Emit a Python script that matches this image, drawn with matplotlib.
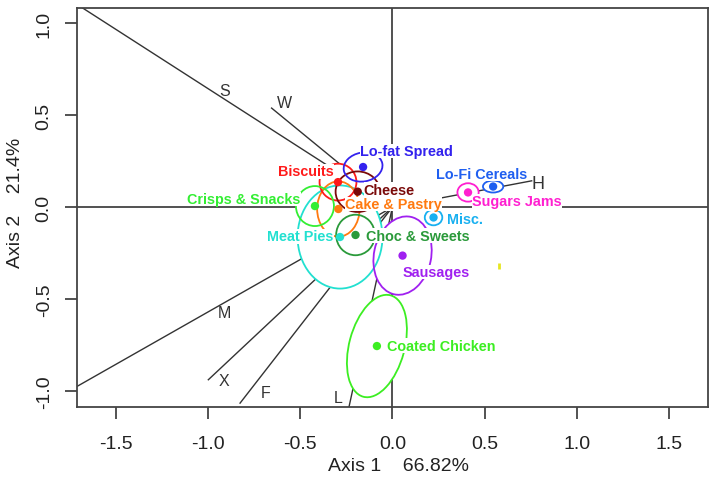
import matplotlib
matplotlib.use("Agg")
import matplotlib.pyplot as plt
from matplotlib.patches import Ellipse

plt.rcParams['font.family'] = ['Liberation Sans', 'DejaVu Sans']
plt.rcParams['axes.unicode_minus'] = False

# ---- class centroids (food categories) ----
categories = ["Meat Pies", "Coated Chicken", "Sausages", "Cake & Pastry", "Biscuits",
              "Cheese", "Crisps & Snacks", "Choc & Sweets", "Lo-fat Spread", "Misc.",
              "Sugars Jams", "Lo-Fi Cereals"]
cat_x = [-0.284, -0.084, 0.055, -0.293, -0.295, -0.188, -0.420, -0.200, -0.159, 0.223, 0.410, 0.546]
cat_y = [-0.162, -0.754, -0.263, -0.010, 0.136, 0.084, 0.006, -0.151, 0.218, -0.056, 0.080, 0.112]
# ellipse sizes (width, height, angle)
ell_w = [0.46, 0.30, 0.31, 0.23, 0.20, 0.24, 0.206, 0.21, 0.212, 0.095, 0.115, 0.11]
ell_h = [0.56, 0.57, 0.43, 0.30, 0.20, 0.22, 0.217, 0.22, 0.157, 0.085, 0.10, 0.065]
ell_a = [0, -15, -12, 0, 0, 0, 0, 0, 10, 0, 0, 0]
colors = ["#22e0d0", "#3cee22", "#a020f0", "#ff7a10", "#ff1a1a", "#7a0a0a", "#33ee33",
          "#2a9a3a", "#3322ee", "#18b0f0", "#ff1fd0", "#1f5ff0"]
# label anchor (left edge, vertical centre)
lab_x = [-0.68, -0.031, 0.057, -0.257, -0.621, -0.155, -1.113, -0.143, -0.176, 0.294, 0.432, 0.236]
lab_y = [-0.159, -0.752, -0.352, 0.018, 0.195, 0.095, 0.044, -0.155, 0.306, -0.065, 0.031, 0.180]

# ---- variable loadings ----
var_names = ["S", "W", "M", "X", "F", "L", "H"]
var_x = [-1.80, -0.655, -1.85, -0.998, -0.826, -0.240, 0.755]
var_y = [1.159, 0.538, -1.053, -0.937, -1.064, -1.106, 0.143]
var_lx = [-0.908, -0.583, -0.908, -0.915, -0.686, -0.295, 0.791]
var_ly = [0.636, 0.569, -0.571, -0.942, -1.005, -1.033, 0.131]

# stray yellow mark
stray_x = [0.578]
stray_y = [-0.320]

xticks = [-1.5, -1.0, -0.5, 0.0, 0.5, 1.0, 1.5]
yticks = [-1.0, -0.5, 0.0, 0.5, 1.0]

fig = plt.figure(figsize=(7.13, 4.85), dpi=100)
ax = fig.add_axes([77/713, 1-408/485, (708-77)/713, (408-8.7)/485])
ax.set_xlim(-1.710, 1.711)
ax.set_ylim(-1.085, 1.083)

lc = "#333333"
ax.axhline(0, color=lc, lw=1.2, zorder=1)
ax.axvline(0, color=lc, lw=1.2, zorder=1)
for vx, vy in zip(var_x, var_y):
    ax.plot([0, vx], [0, vy], color=lc, lw=1.0, zorder=1)
for n, lx, ly in zip(var_names, var_lx, var_ly):
    ax.text(lx, ly, n, fontsize=11.5 if n != "H" else 13, color="#333333",
            ha="center", va="center", zorder=6)

# white fills first (hide lines beneath), then all outlines
for i, c in enumerate(categories):
    ax.add_patch(Ellipse((cat_x[i], cat_y[i]), ell_w[i], ell_h[i], angle=ell_a[i],
                         facecolor="white", edgecolor="none", zorder=2))
for i, c in enumerate(categories):
    ax.add_patch(Ellipse((cat_x[i], cat_y[i]), ell_w[i], ell_h[i], angle=ell_a[i],
                         facecolor="none", edgecolor=colors[i], lw=1.3, zorder=3))

ax.scatter(cat_x, cat_y, s=36, c=colors, zorder=4, linewidths=0)
ax.plot(stray_x, stray_y, marker="|", color="#e6e620", ms=5, mew=2, ls="none", zorder=4)

for i, c in enumerate(categories):
    ax.text(lab_x[i], lab_y[i], c, color=colors[i], fontsize=10.4, fontweight="bold",
            ha="left", va="center", zorder=5,
            bbox=dict(boxstyle="square,pad=0.02", facecolor="white", edgecolor="none"))

ax.set_xticks(xticks)
ax.set_xticklabels([f"{t:.1f}" for t in xticks])
ax.set_yticks(yticks)
ax.set_yticklabels([f"{t:.1f}" for t in yticks], rotation=90, va="center")
ax.tick_params(axis="both", direction="out", length=8.5, width=1.3, color="#444444",
               labelsize=14, labelcolor="#222222")
ax.tick_params(axis="x", pad=12)
ax.tick_params(axis="y", pad=9)
for s in ax.spines.values():
    s.set_color("#444444")
    s.set_linewidth(1.3)

ax.set_xlabel("Axis 1    66.82%", fontsize=14, color="#222222")
ax.xaxis.set_label_coords(0.5095, -0.147)
ax.xaxis.label.set_verticalalignment("center")
ax.set_ylabel("Axis 2    21.4%", fontsize=14, color="#222222")
ax.yaxis.set_label_coords(-0.098, 0.514)
ax.yaxis.label.set_verticalalignment("center")

fig.savefig("out.png", dpi=100)
